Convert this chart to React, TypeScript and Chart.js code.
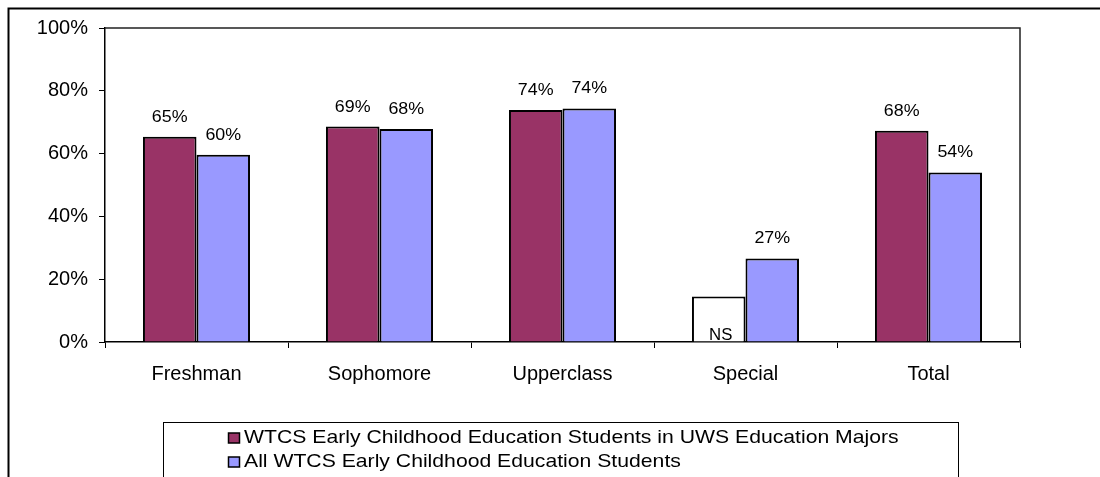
import React, { useEffect, useRef } from "react";
import { Chart, registerables } from "chart.js";

Chart.register(...registerables);

const categories = ["Freshman", "Sophomore", "Upperclass", "Special", "Total"];
const majorsValues = [65.4, 68.6, 73.9, 14.5, 67.3];
const allValues = [59.6, 67.8, 74.4, 26.6, 54.0];
const majorsLabels = ["65%", "69%", "74%", "NS", "68%"];
const allLabels = ["60%", "68%", "74%", "27%", "54%"];
const seriesNames = [
  "WTCS Early Childhood Education Students in UWS Education Majors",
  "All WTCS Early Childhood Education Students",
];
const yTickStep = 20;
const yMax = 100;

const RED = "#993366";
const BLUE = "#9999FF";
const FONT = "'Liberation Sans', Arial, sans-serif";

const valueLabelsPlugin = {
  id: "valueLabels",
  afterDatasetsDraw(chart: any) {
    const ctx = chart.ctx;
    const labelSets = [majorsLabels, allLabels];
    ctx.save();
    ctx.fillStyle = "#000";
    ctx.textAlign = "center";
    ctx.textBaseline = "alphabetic";
    chart.data.datasets.forEach((ds: any, di: number) => {
      const meta = chart.getDatasetMeta(di);
      meta.data.forEach((el: any, i: number) => {
        const txt = labelSets[di][i];
        ctx.save();
        if (txt === "NS") {
          ctx.font = `16px ${FONT}`;
          ctx.translate(el.x + 2, el.base - 2);
        } else {
          ctx.font = `17px ${FONT}`;
          ctx.translate(el.x, el.y - 15);
        }
        ctx.scale(1.05, 1);
        ctx.fillText(txt, 0, 0);
        ctx.restore();
      });
    });
    ctx.restore();
  },
};

const framePlugin = {
  id: "frame",
  afterDraw(chart: any) {
    const ctx = chart.ctx;
    const a = chart.chartArea;
    ctx.save();
    // outer frame (clipped at right/bottom)
    ctx.strokeStyle = "#000";
    ctx.lineWidth = 2;
    ctx.beginPath();
    ctx.moveTo(8.5, 600);
    ctx.lineTo(8.5, 8.5);
    ctx.lineTo(1200, 8.5);
    ctx.stroke();
    // plot area top & right border
    ctx.strokeStyle = "#222";
    ctx.lineWidth = 1.5;
    ctx.beginPath();
    ctx.moveTo(a.left, a.top);
    ctx.lineTo(a.right, a.top);
    ctx.lineTo(a.right, a.bottom);
    ctx.stroke();
    // legend
    const lx = 163.5;
    const ly = 422.5;
    ctx.strokeStyle = "#000";
    ctx.lineWidth = 1;
    ctx.fillStyle = "#fff";
    ctx.fillRect(lx, ly, 795, 100);
    ctx.strokeRect(lx, ly, 795, 100);
    const colors = [RED, BLUE];
    ctx.textAlign = "left";
    ctx.textBaseline = "middle";
    chart.data.datasets.forEach((ds: any, i: number) => {
      const cy = 438 + i * 24;
      ctx.fillStyle = colors[i];
      ctx.fillRect(228.5, cy - 5, 11, 10);
      ctx.strokeStyle = "#000";
      ctx.lineWidth = 1.5;
      ctx.strokeRect(228.5, cy - 5, 11, 10);
      ctx.fillStyle = "#000";
      ctx.save();
      ctx.font = `19px ${FONT}`;
      ctx.translate(244, cy);
      ctx.scale(1.115, 1);
      ctx.fillText(ds.label, 0, 0);
      ctx.restore();
    });
    ctx.restore();
  },
};

export default function App() {
  const ref = useRef<HTMLCanvasElement | null>(null);
  useEffect(() => {
    if (!ref.current) return;
    const chart = new Chart(ref.current, {
      type: "bar",
      data: {
        labels: categories,
        datasets: [
          {
            label: seriesNames[0],
            data: majorsValues,
            backgroundColor: majorsLabels.map((l) => (l === "NS" ? "#FFFFFF" : RED)),
            borderColor: "#000",
            borderWidth: 2,
            categoryPercentage: 0.585,
            barPercentage: 1.0,
          },
          {
            label: seriesNames[1],
            data: allValues,
            backgroundColor: BLUE,
            borderColor: "#000",
            borderWidth: 2,
            categoryPercentage: 0.585,
            barPercentage: 1.0,
          },
        ],
      },
      options: {
        responsive: false,
        animation: false,
        devicePixelRatio: 1,
        layout: { padding: { left: 0, top: 28, right: 80, bottom: 75 } },
        plugins: {
          legend: { display: false },
          tooltip: { enabled: false },
          title: { display: false },
        },
        scales: {
          x: {
            clip: false,
            grid: {
              offset: true,
              drawOnChartArea: false,
              drawTicks: true,
              tickLength: 6,
              color: "#000",
              lineWidth: 1,
            },
            border: { display: true, color: "#000", width: 1.5 },
            ticks: { color: "#000", font: { family: FONT, size: 20 }, padding: 14 },
            afterFit: (s: any) => {
              s.height = 60;
            },
          },
          y: {
            min: 0,
            max: yMax,
            clip: false,
            grid: {
              drawOnChartArea: false,
              drawTicks: true,
              tickLength: 6,
              color: "#000",
              lineWidth: 1,
            },
            border: { display: true, color: "#000", width: 1.5 },
            ticks: {
              stepSize: yTickStep,
              color: "#000",
              font: { family: FONT, size: 20 },
              padding: 11,
              callback: (v: any) => `${v}%`,
            },
            afterFit: (s: any) => {
              s.width = 105;
            },
          },
        },
      },
      plugins: [valueLabelsPlugin, framePlugin],
    });
    return () => chart.destroy();
  }, []);
  return (
    <div style={{ position: "fixed", left: 0, top: 0, width: 1100, height: 477, background: "#fff" }}>
      <canvas ref={ref} width={1100} height={477} style={{ width: 1100, height: 477 }} />
    </div>
  );
}
